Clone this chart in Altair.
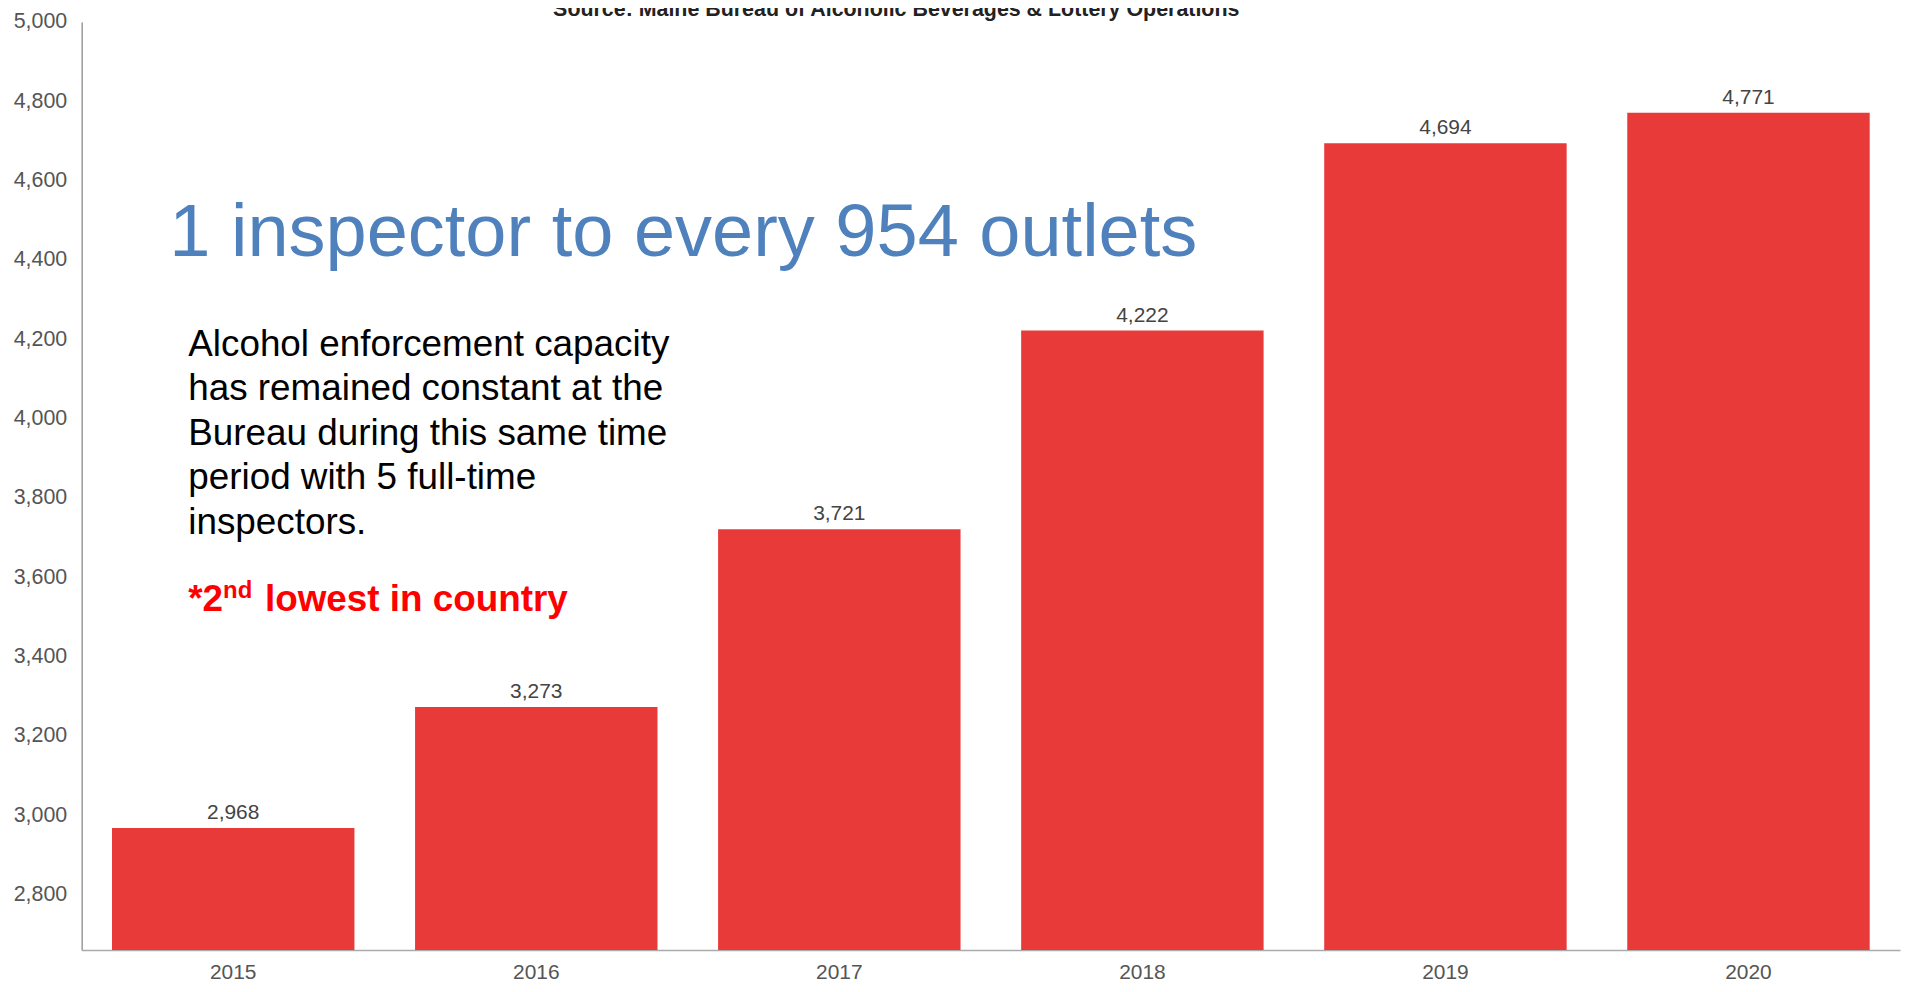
import altair as alt
import pandas as pd

FONT = "Liberation Sans"

years = ["2015", "2016", "2017", "2018", "2019", "2020"]
outlets = [2968, 3273, 3721, 4222, 4694, 4771]
y_ticks = [2800, 3000, 3200, 3400, 3600, 3800, 4000, 4200, 4400, 4600, 4800, 5000]
Y_MIN = 2660
Y_MAX = 5000

source_text = "Source: Maine Bureau of Alcoholic Beverages & Lottery Operations"
headline = "1 inspector to every 954 outlets"
body_lines = [
    "Alcohol enforcement capacity",
    "has remained constant at the",
    "Bureau during this same time",
    "period with 5 full-time",
    "inspectors.",
]
note_star = "*2"
note_sup = "nd"
note_rest = "lowest in country"

df = pd.DataFrame({"year": years, "outlets": outlets})

x_enc = alt.X(
    "year:N",
    scale=alt.Scale(paddingInner=0.2, paddingOuter=0.1),
    axis=alt.Axis(
        title=None, labelAngle=0, ticks=False, domainColor="#aaaaaa", domainWidth=1.5,
        labelFontSize=21, labelColor="#555555", labelPadding=12, labelFont=FONT,
    ),
)
y_enc = alt.Y(
    "outlets:Q",
    scale=alt.Scale(domain=[Y_MIN, Y_MAX], nice=False, zero=False),
    axis=alt.Axis(
        title=None, values=y_ticks, format=",.0f", ticks=False, grid=False,
        domainColor="#999999", domainWidth=1.5, labelFontSize=21.5, labelPadding=15,
        labelColor="#555555", labelFont=FONT,
    ),
)

bars = alt.Chart(df).mark_bar(color="#E83A39").encode(
    x=x_enc, y=y_enc, y2=alt.datum(Y_MIN)
)

labels = alt.Chart(df).mark_text(
    dy=-9, baseline="alphabetic", fontSize=21, color="#444444", font=FONT
).encode(x="year:N", y="outlets:Q", text=alt.Text("outlets:Q", format=",.0f"))

one = pd.DataFrame({"k": [0]})

src = alt.Chart(one).mark_text(
    text=source_text, align="center", baseline="alphabetic", fontSize=21.5,
    fontWeight="bold", color="#222222", font=FONT,
).encode(x=alt.value(818), y=alt.value(-6))

head = alt.Chart(one).mark_text(
    text=headline, align="left", baseline="alphabetic", fontSize=74.3,
    color="#4F81BD", font=FONT,
).encode(x=alt.value(88), y=alt.value(235))

body = alt.Chart(one).mark_text(
    text=body_lines, align="left", baseline="alphabetic", fontSize=37,
    lineHeight=44.7, color="#000000", font=FONT,
).encode(x=alt.value(107), y=alt.value(335))

star = alt.Chart(one).mark_text(
    text=note_star, align="left", baseline="alphabetic", fontSize=37,
    fontWeight="bold", color="#FF0000", font=FONT,
).encode(x=alt.value(107), y=alt.value(591))

sup = alt.Chart(one).mark_text(
    text=note_sup, align="left", baseline="alphabetic", fontSize=24,
    fontWeight="bold", color="#FF0000", font=FONT,
).encode(x=alt.value(142), y=alt.value(578))

rest = alt.Chart(one).mark_text(
    text=note_rest, align="left", baseline="alphabetic", fontSize=37,
    fontWeight="bold", color="#FF0000", font=FONT,
).encode(x=alt.value(184), y=alt.value(591))

chart = alt.layer(bars, labels, src, head, body, star, sup, rest).properties(
    width=1826,
    height=932,
    padding={"left": 74, "top": 12, "right": 2, "bottom": 32},
    autosize="none",
    background="white",
).configure_view(stroke=None)

chart.save("out.html", embed_options={"renderer": "svg", "actions": False})
